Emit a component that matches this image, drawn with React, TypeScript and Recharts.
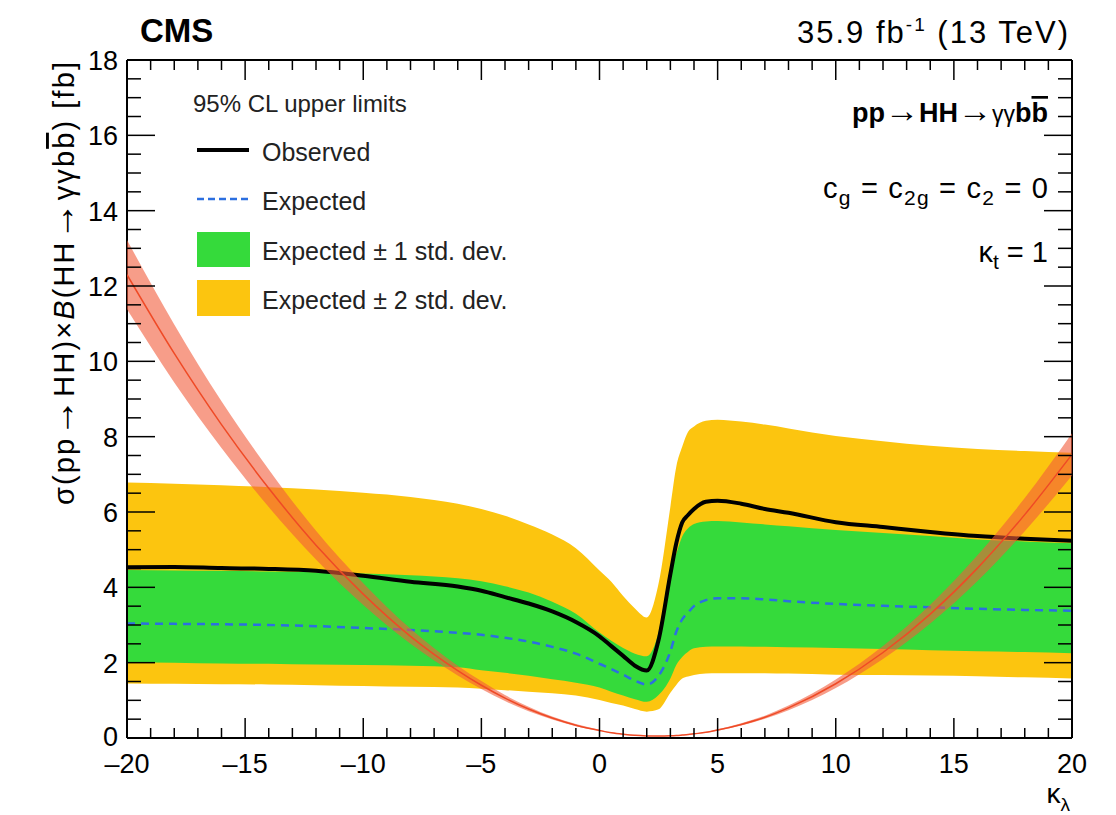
import React from 'react';
import { ComposedChart, Area, Line, XAxis, YAxis, Legend } from 'recharts';

const FONT = '"Liberation Sans", Arial, Helvetica, sans-serif';

// kappa_lambda scan points
const kappaLambda = [-20, -18, -16, -14, -12, -10, -8, -6, -5, -4, -3, -2, -1, 0, 0.5, 1, 1.5, 2, 2.5, 3, 3.25, 3.5, 3.75, 4, 4.5, 5, 6, 7, 8, 10, 12, 14, 16, 18, 20];

// 95% CL upper limits on sigma x B [fb]
const observed = [4.53, 4.54, 4.51, 4.49, 4.44, 4.31, 4.15, 4.02, 3.91, 3.74, 3.57, 3.36, 3.08, 2.7, 2.44, 2.18, 1.92, 1.79, 2.6, 4.35, 5.17, 5.72, 5.92, 6.08, 6.27, 6.3, 6.22, 6.08, 5.98, 5.73, 5.6, 5.47, 5.36, 5.29, 5.24];
const expected = [3.04, 3.03, 3.02, 3.0, 2.97, 2.92, 2.87, 2.79, 2.74, 2.66, 2.56, 2.42, 2.24, 1.97, 1.83, 1.68, 1.52, 1.42, 1.65, 2.3, 2.82, 3.15, 3.33, 3.5, 3.66, 3.71, 3.71, 3.68, 3.63, 3.56, 3.51, 3.47, 3.43, 3.4, 3.38];
const expMinus1 = [2.01, 2.0, 1.98, 1.97, 1.95, 1.94, 1.92, 1.88, 1.8, 1.73, 1.65, 1.56, 1.47, 1.34, 1.23, 1.13, 1.03, 0.96, 1.14, 1.58, 1.94, 2.15, 2.29, 2.38, 2.42, 2.43, 2.43, 2.42, 2.41, 2.39, 2.36, 2.33, 2.3, 2.28, 2.25];
const expPlus1 = [4.46, 4.45, 4.44, 4.42, 4.4, 4.37, 4.32, 4.24, 4.16, 4.03, 3.86, 3.62, 3.3, 2.8, 2.58, 2.39, 2.24, 2.17, 2.8, 4.5, 4.9, 5.35, 5.57, 5.68, 5.75, 5.76, 5.72, 5.67, 5.62, 5.52, 5.44, 5.36, 5.27, 5.22, 5.17];
const expMinus2 = [1.45, 1.44, 1.43, 1.42, 1.4, 1.38, 1.36, 1.34, 1.31, 1.27, 1.23, 1.19, 1.13, 1.01, 0.93, 0.86, 0.77, 0.7, 0.76, 1.2, 1.41, 1.58, 1.63, 1.67, 1.71, 1.72, 1.72, 1.72, 1.71, 1.68, 1.67, 1.66, 1.64, 1.61, 1.58];
const expPlus2 = [6.78, 6.75, 6.71, 6.66, 6.6, 6.51, 6.4, 6.22, 6.08, 5.9, 5.67, 5.4, 5.04, 4.45, 4.15, 3.77, 3.44, 3.2, 4.1, 6.14, 7.2, 7.73, 8.13, 8.27, 8.42, 8.45, 8.4, 8.32, 8.22, 8.02, 7.88, 7.76, 7.67, 7.62, 7.57];

// theoretical prediction with its uncertainty band [fb]
const theory = [12.3, 10.21, 8.32, 6.63, 5.12, 3.82, 2.7, 1.79, 1.4, 1.06, 0.77, 0.53, 0.34, 0.2, 0.14, 0.1, 0.07, 0.055, 0.05, 0.057, 0.065, 0.077, 0.09, 0.11, 0.15, 0.21, 0.36, 0.55, 0.8, 1.44, 2.27, 3.29, 4.51, 5.93, 7.53];
const theoryLow = [11.38, 9.44, 7.7, 6.13, 4.74, 3.53, 2.5, 1.66, 1.3, 0.98, 0.71, 0.49, 0.31, 0.19, 0.13, 0.09, 0.065, 0.05, 0.046, 0.053, 0.06, 0.071, 0.083, 0.1, 0.14, 0.19, 0.33, 0.51, 0.74, 1.33, 2.1, 3.04, 4.17, 5.49, 6.97];
const theoryHigh = [13.22, 10.98, 8.94, 7.13, 5.5, 4.11, 2.9, 1.92, 1.51, 1.14, 0.83, 0.57, 0.37, 0.22, 0.15, 0.11, 0.075, 0.06, 0.054, 0.061, 0.07, 0.083, 0.097, 0.12, 0.16, 0.23, 0.39, 0.59, 0.86, 1.55, 2.44, 3.54, 4.85, 6.37, 8.09];

const xMajorTicks = [-20, -15, -10, -5, 0, 5, 10, 15, 20];
const yMajorTicks = [0, 2, 4, 6, 8, 10, 12, 14, 16, 18];
const xTicks: number[] = [];
for (let v = -20; v <= 20; v += 1) xTicks.push(v);
const yTicks: number[] = [];
for (let v = 0; v <= 18; v += 0.5) yTicks.push(v);

const COLORS = {
  green: '#35da3b',
  yellow: '#fcc50f',
  blue: '#2c6fe0',
  theoryFill: '#f25c3b',
  theoryLine: '#ef4a26',
};

const data = kappaLambda.map((k, i) => ({
  k,
  obs: observed[i],
  exp: expected[i],
  band1: [expMinus1[i], expPlus1[i]],
  band2: [expMinus2[i], expPlus2[i]],
  th: theory[i],
  thBand: [theoryLow[i], theoryHigh[i]],
}));

const fmt = (v: number) => (v < 0 ? `\u2013${Math.abs(v)}` : String(v));

const BottomTick = (props: any) => {
  const { x, y, payload } = props;
  const v = payload.value;
  const major = xMajorTicks.includes(v);
  return (
    <g>
      <line x1={x} x2={x} y1={y} y2={y - (major ? 20 : 10)} stroke="#000" strokeWidth={1.5} />
      {major && (
        <text x={x} y={y + 35} textAnchor="middle" fontFamily={FONT} fontSize={27} fill="#000">
          {fmt(v)}
        </text>
      )}
    </g>
  );
};

const TopTick = (props: any) => {
  const { x, y, payload } = props;
  const major = xMajorTicks.includes(payload.value);
  return <line x1={x} x2={x} y1={y} y2={y + (major ? 20 : 10)} stroke="#000" strokeWidth={1.5} />;
};

const LeftTick = (props: any) => {
  const { x, y, payload } = props;
  const v = payload.value;
  const major = yMajorTicks.includes(v);
  return (
    <g>
      <line x1={x} x2={x + (major ? 28 : 14)} y1={y} y2={y} stroke="#000" strokeWidth={1.5} />
      {major && (
        <text x={x - 9} y={y + (v === 0 ? 8 : 10)} textAnchor="end" fontFamily={FONT} fontSize={27} fill="#000">
          {v}
        </text>
      )}
    </g>
  );
};

const RightTick = (props: any) => {
  const { x, y, payload } = props;
  const major = yMajorTicks.includes(payload.value);
  return <line x1={x} x2={x - (major ? 28 : 14)} y1={y} y2={y} stroke="#000" strokeWidth={1.5} />;
};

const legendItems = [
  { kind: 'line', label: 'Observed' },
  { kind: 'dash', label: 'Expected' },
  { kind: 'box1', label: 'Expected \u00b1 1 std. dev.' },
  { kind: 'box2', label: 'Expected \u00b1 2 std. dev.' },
];

const LimitLegend = () => (
  <svg width={360} height={240} style={{ overflow: 'visible' }}>
    <text x={13} y={27} fontFamily={FONT} fontSize={24} fill="#222">95% CL upper limits</text>
    {legendItems.map((it, i) => {
      const rowY = [65, 114, 164, 213][i];
      return (
        <g key={it.label}>
          {it.kind === 'line' && <line x1={17} x2={69} y1={rowY} y2={rowY} stroke="#000" strokeWidth={4} />}
          {it.kind === 'dash' && (
            <line x1={17} x2={69} y1={rowY} y2={rowY} stroke={COLORS.blue} strokeWidth={2.5} strokeDasharray="7 4" />
          )}
          {it.kind === 'box1' && <rect x={17} y={rowY - 17} width={53} height={35} fill={COLORS.green} />}
          {it.kind === 'box2' && <rect x={17} y={rowY - 18} width={53} height={36} fill={COLORS.yellow} />}
          <text x={82} y={rowY + 11} fontFamily={FONT} fontSize={25} fill="#222">{it.label}</text>
        </g>
      );
    })}
  </svg>
);

export default function App() {
  return (
    <div style={{ position: 'absolute', left: 0, top: 0, width: 1116, height: 815, background: '#fff' }}>
      <ComposedChart
        width={1116}
        height={815}
        data={data}
        margin={{ top: 40, right: 24, bottom: 37, left: 67 }}
      >
        <XAxis
          dataKey="k"
          type="number"
          domain={[-20, 20]}
          ticks={xTicks}
          interval={0}
          allowDataOverflow
          height={40}
          tickSize={0}
          tickMargin={0}
          tickLine={false}
          axisLine={{ stroke: '#000', strokeWidth: 2 }}
          tick={<BottomTick />}
        />
        <XAxis
          xAxisId="top"
          orientation="top"
          dataKey="k"
          type="number"
          domain={[-20, 20]}
          ticks={xTicks}
          interval={0}
          allowDataOverflow
          height={20}
          tickSize={0}
          tickMargin={0}
          tickLine={false}
          axisLine={{ stroke: '#000', strokeWidth: 2 }}
          tick={<TopTick />}
        />
        <YAxis
          type="number"
          domain={[0, 18]}
          ticks={yTicks}
          interval={0}
          allowDataOverflow
          width={60}
          tickSize={0}
          tickMargin={0}
          tickLine={false}
          axisLine={{ stroke: '#000', strokeWidth: 2 }}
          tick={<LeftTick />}
        />
        <YAxis
          yAxisId="right"
          orientation="right"
          type="number"
          domain={[0, 18]}
          ticks={yTicks}
          interval={0}
          allowDataOverflow
          width={20}
          tickSize={0}
          tickMargin={0}
          tickLine={false}
          axisLine={{ stroke: '#000', strokeWidth: 2 }}
          tick={<RightTick />}
        />
        <Legend
          layout="horizontal"
          verticalAlign="middle"
          align="center"
          wrapperStyle={{ position: 'absolute', left: 180, top: 85, width: 360, height: 240 }}
          content={<LimitLegend />}
        />
        <Area
          dataKey="band2"
          type="monotone"
          stroke="none"
          fill={COLORS.yellow}
          fillOpacity={1}
          isAnimationActive={false}
          dot={false}
          activeDot={false}
        />
        <Area
          dataKey="band1"
          type="monotone"
          stroke="none"
          fill={COLORS.green}
          fillOpacity={1}
          isAnimationActive={false}
          dot={false}
          activeDot={false}
        />
        <Line
          dataKey="exp"
          type="monotone"
          stroke={COLORS.blue}
          strokeWidth={2.5}
          strokeDasharray="8 6"
          dot={false}
          activeDot={false}
          isAnimationActive={false}
        />
        <Line
          dataKey="obs"
          type="monotone"
          stroke="#000"
          strokeWidth={4}
          dot={false}
          activeDot={false}
          isAnimationActive={false}
        />
        <Area
          dataKey="thBand"
          type="monotone"
          stroke="none"
          fill={COLORS.theoryFill}
          fillOpacity={0.6}
          isAnimationActive={false}
          dot={false}
          activeDot={false}
          {...({ zIndex: 600 } as any)}
        />
        <Line
          dataKey="th"
          type="monotone"
          stroke={COLORS.theoryLine}
          strokeWidth={1.5}
          dot={false}
          activeDot={false}
          isAnimationActive={false}
          {...({ zIndex: 601 } as any)}
        />
      </ComposedChart>

      <svg
        width={1116}
        height={815}
        style={{ position: 'absolute', left: 0, top: 0, pointerEvents: 'none' }}
        fontFamily={FONT}
      >
        <text x={140} y={42} fontSize={33} fontWeight="bold" fill="#000">CMS</text>
        <text x={1068} y={43} fontSize={31} textAnchor="end" fill="#000" textLength={271} lengthAdjust="spacing">
          35.9 fb<tspan dy={-12} fontSize={19}>-1</tspan>
          <tspan dy={12}> (13 TeV)</tspan>
        </text>

        <text x={1048} y={122} textAnchor="end" fill="#000" fontSize={27}>
          <tspan fontWeight="bold">pp</tspan>
          <tspan fontSize={34}>{'\u2192'}</tspan>
          <tspan fontWeight="bold">HH</tspan>
          <tspan fontSize={34}>{'\u2192'}</tspan>
          <tspan fontSize={23}>{'\u03b3\u03b3'}</tspan>
          <tspan fontWeight="bold">b</tspan>
          <tspan fontWeight="bold" textDecoration="overline">b</tspan>
        </text>

        <text x={1048} y={198} textAnchor="end" fill="#000" fontSize={29} textLength={225} lengthAdjust="spacing">
          c<tspan fontSize={21} dy={7}>g</tspan>
          <tspan dy={-7}> = c</tspan>
          <tspan fontSize={21} dy={7}>2g</tspan>
          <tspan dy={-7}> = c</tspan>
          <tspan fontSize={21} dy={7}>2</tspan>
          <tspan dy={-7}> = 0</tspan>
        </text>

        <text x={1048} y={262} textAnchor="end" fill="#000" fontSize={29}>
          {'\u03ba'}<tspan fontSize={21} dy={7}>t</tspan>
          <tspan dy={-7}> = 1</tspan>
        </text>

        <text
          transform="translate(74, 62) rotate(-90)"
          x={0}
          y={0}
          textAnchor="end"
          fill="#000"
          fontSize={29}
          textLength={443}
          lengthAdjust="spacing"
        >
          {'\u03c3(pp'}
          <tspan fontSize={38}>{'\u2192'}</tspan>
          {'HH)\u00d7'}
          <tspan fontStyle="italic">B</tspan>
          {'(HH'}
          <tspan fontSize={38}>{'\u2192'}</tspan>
          {'\u03b3\u03b3b'}
          <tspan textDecoration="overline">b</tspan>
          {') [fb]'}
        </text>

        <text x={1070} y={803} textAnchor="end" fill="#000" fontSize={28}>
          {'\u03ba'}<tspan fontSize={19} dy={8}>{'\u03bb'}</tspan>
        </text>
      </svg>
    </div>
  );
}
